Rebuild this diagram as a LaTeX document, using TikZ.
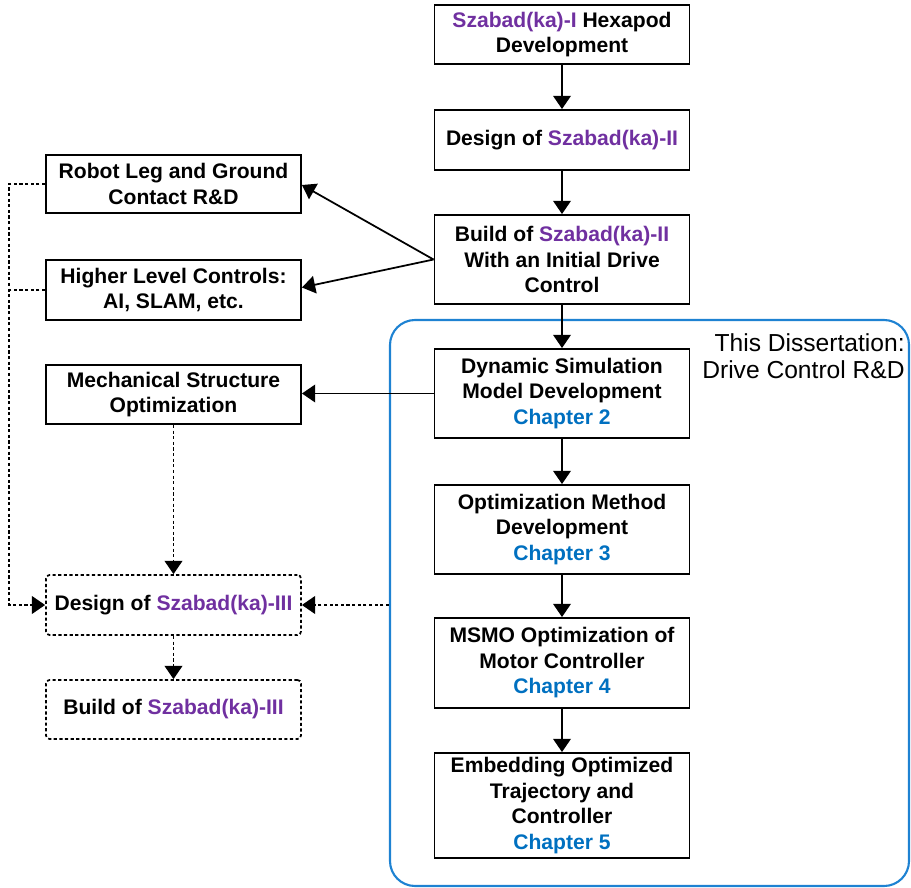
\documentclass[tikz,border=0pt]{standalone}
\usepackage{fontspec}
\setmainfont{Liberation Sans}
\usetikzlibrary{arrows.meta,positioning}
\tikzset{>={Triangle[length=7.5pt,width=10pt]}}
\definecolor{szpurple}{RGB}{112,48,160}
\definecolor{chapblue}{RGB}{0,112,192}
\definecolor{framblue}{RGB}{30,130,210}
\newcommand{\szb}[1]{\textcolor{szpurple}{#1}}
\newcommand{\chap}[1]{\textcolor{chapblue}{#1}}
\tikzset{
  box/.style={draw, line width=1.1pt, minimum width=5.1cm, align=center,
    inner sep=2pt, font=\fontsize{12}{14.5}\selectfont\bfseries},
  dbox/.style={box, line width=1pt, dash pattern=on 1.8pt off 1.4pt, rounded corners=2pt},
  arr/.style={->, line width=1pt},
  dashln/.style={line width=1.1pt, dash pattern=on 1.8pt off 1.4pt},
  frame/.style={draw=framblue, line width=1.2pt, rounded corners=0.5cm}
}

\begin{document}
\begin{tikzpicture}
      \useasboundingbox (0,0) rectangle (18.22,-17.76);
      % dissertation frame
      \node[frame, minimum width=10.38cm, minimum height=11.32cm] (diss) at (12.99,-12.06) {};
      \node[anchor=east, align=right, inner sep=0pt, font=\fontsize{14}{15.4}\selectfont] (dlbl) at (18.1,-7.12)
        {This Dissertation:\\Drive Control R\&D};
      %
      \node[box, minimum height=1.18cm] (hexI) at (11.24,-0.69) {\szb{Szabad(ka)-I} Hexapod\\Development};
      \node[box, minimum height=1.2cm] (desII) at (11.24,-2.80) {Design of \szb{Szabad(ka)-II}};
      \node[box, minimum height=1.78cm] (buildII) at (11.24,-5.19)
        {Build of \szb{Szabad(ka)-II}\\With an Initial Drive\\Control};
      \node[box, minimum height=1.78cm] (dsm) at (11.24,-7.87)
        {Dynamic Simulation\\Model Development\\\chap{Chapter 2}};
      \node[box, minimum height=1.78cm] (omd) at (11.24,-10.59)
        {Optimization Method\\Development\\\chap{Chapter 3}};
      \node[box, minimum height=1.8cm] (msmo) at (11.24,-13.26)
        {MSMO Optimization of\\Motor Controller\\\chap{Chapter 4}};
      \node[box, minimum height=2.1cm] (emb) at (11.24,-16.11)
        {Embedding Optimized\\Trajectory and\\Controller\\\chap{Chapter 5}};
      %
      \node[box, minimum height=1.16cm] (legrd) at (3.47,-3.68) {Robot Leg and Ground\\Contact R\&D};
      \node[box, minimum height=1.2cm] (hlc) at (3.47,-5.80) {Higher Level Controls:\\AI, SLAM, etc.};
      \node[box, minimum height=1.18cm] (mso) at (3.47,-7.89) {Mechanical Structure\\Optimization};
      \node[dbox, minimum height=1.2cm] (desIII) at (3.47,-12.10) {Design of \szb{Szabad(ka)-III}};
      \node[dbox, minimum height=1.18cm] (buildIII) at (3.47,-14.19) {Build of \szb{Szabad(ka)-III}};
      %
      \draw[arr] (hexI) -- (desII);
      \draw[arr] (desII) -- (buildII);
      \draw[arr] (buildII) -- (dsm);
      \draw[arr] (dsm) -- (omd);
      \draw[arr] (omd) -- (msmo);
      \draw[arr] (msmo) -- (emb);
      \draw[arr] (buildII.west) -- ([yshift=-0.02cm]legrd.east);
      \draw[arr] (buildII.west) -- ([yshift=0.05cm]hlc.east);
      \draw[arr] (dsm.west) -- (mso.east |- dsm.west);
      %
      \draw[dashln,->] (legrd.west) -- ++(-0.72,0) |- (desIII.west);
      \draw[dashln] (hlc.west) -- ++(-0.72,0);
      \draw[dashln,->] (mso.south) -- (desIII.north);
      \draw[dashln,->] (desIII.south) -- (buildIII.north);
      \draw[dashln,->] (diss.west |- desIII.east) -- (desIII.east);
    \end{tikzpicture}
\end{document}
